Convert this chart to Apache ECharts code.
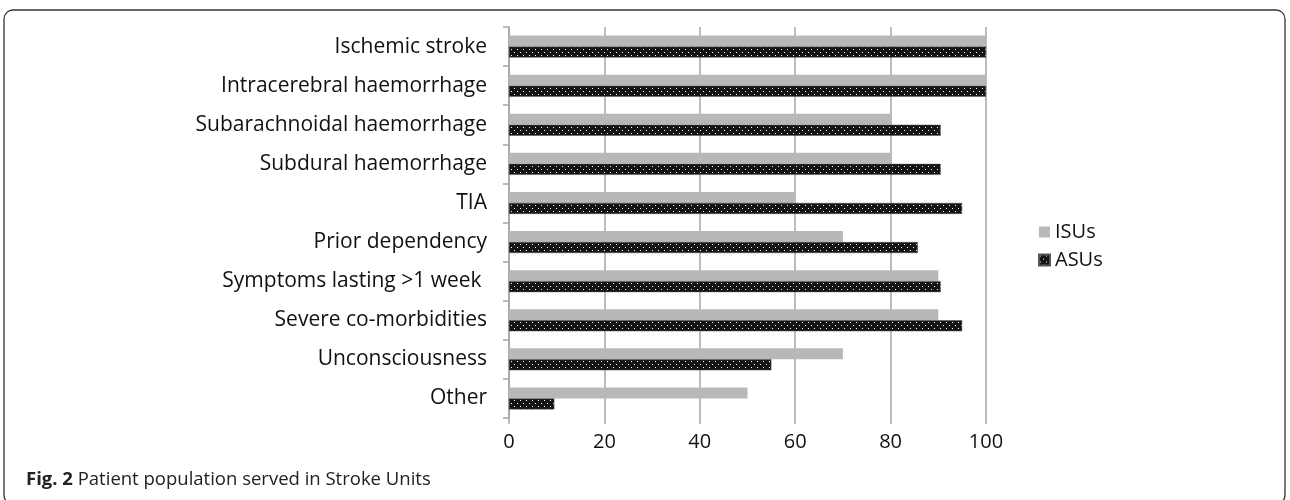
<!DOCTYPE html>
<html>
<head>
<meta charset="utf-8">
<script src="https://cdn.jsdelivr.net/npm/echarts@6/dist/echarts.min.js"></script>
<style>
  html, body { margin: 0; padding: 0; background: #fff; }
  #chart { width: 1290px; height: 500px; }
</style>
</head>
<body>
<div id="chart"></div>
<script>
// categories top -> bottom
const categories = [
  'Ischemic stroke',
  'Intracerebral haemorrhage',
  'Subarachnoidal haemorrhage',
  'Subdural haemorrhage',
  'TIA',
  'Prior dependency',
  'Symptoms lasting >1 week ',
  'Severe co-morbidities',
  'Unconsciousness',
  'Other'
]
const isuValues = [100, 100, 80, 80, 60, 70, 90, 90, 70, 50]
const asuValues = [100, 100, 90.5, 90.5, 95, 85.7, 90.5, 95, 55, 9.5]
const xTicks = [0, 20, 40, 60, 80, 100]

// dotted fill for ASUs
const makeDots = () => {
  const c = document.createElement('canvas')
  c.width = 6
  c.height = 6
  const ctx = c.getContext('2d')
  ctx.fillStyle = '#141414'
  ctx.fillRect(0, 0, 6, 6)
  ctx.fillStyle = '#ffffff'
  ctx.fillRect(1, 1, 1, 1)
  ctx.fillRect(4, 4, 1, 1)
  return c
}
const dots = { image: makeDots(), repeat: 'repeat' }

const font = '"Open Sans", sans-serif'
const chart = echarts.init(document.getElementById('chart'))

chart.setOption({
  animation: false,
  textStyle: { fontFamily: font },
  grid: { left: 509, top: 27, width: 477, height: 391, containLabel: false },
  legend: {
    orient: 'vertical',
    left: 1033,
    top: 217,
    itemWidth: 11,
    itemHeight: 11,
    itemGap: 8,
    textStyle: { fontSize: 20, color: '#111', fontFamily: font },
    data: [
      { name: 'ISUs', icon: 'rect' },
      { name: 'ASUs', icon: 'rect' }
    ]
  },
  xAxis: {
    type: 'value',
    min: xTicks[0],
    max: xTicks[xTicks.length - 1],
    interval: 20,
    axisLine: { show: false },
    axisTick: { show: true, length: 6, lineStyle: { color: '#a6a6a6', width: 1.5 } },
    axisLabel: { fontSize: 20, color: '#111', margin: 14 },
    splitLine: { show: true, lineStyle: { color: '#a6a6a6', width: 1.5 } }
  },
  yAxis: {
    type: 'category',
    data: categories,
    inverse: true,
    axisLine: { show: true, lineStyle: { color: '#a6a6a6', width: 1.5 } },
    axisTick: { show: true, length: 6, lineStyle: { color: '#a6a6a6', width: 1.5 } },
    axisLabel: { fontSize: 21, color: '#111', margin: 22 }
  },
  series: [
    {
      name: 'ISUs',
      type: 'bar',
      data: isuValues,
      barWidth: 11,
      barGap: '0%',
      itemStyle: { color: '#b8b8b8' }
    },
    {
      name: 'ASUs',
      type: 'bar',
      data: asuValues,
      barWidth: 11,
      barGap: '0%',
      itemStyle: { color: dots, borderColor: '#555', borderWidth: 0.5 }
    }
  ],
  graphic: [
    {
      type: 'rect',
      shape: { x: 4, y: 10, width: 1281, height: 494, r: 9 },
      style: { fill: 'none', stroke: '#333', lineWidth: 1.3 },
      silent: true
    },
    {
      type: 'text',
      left: 26,
      top: 470,
      style: {
        text: '{b|Fig. 2} Patient population served in Stroke Units',
        rich: {
          b: { fontWeight: 'bold', fontSize: 18.5, fontFamily: font, fill: '#222' }
        },
        fontSize: 18.5,
        fontFamily: font,
        fill: '#222'
      }
    }
  ]
})
</script>
</body>
</html>
